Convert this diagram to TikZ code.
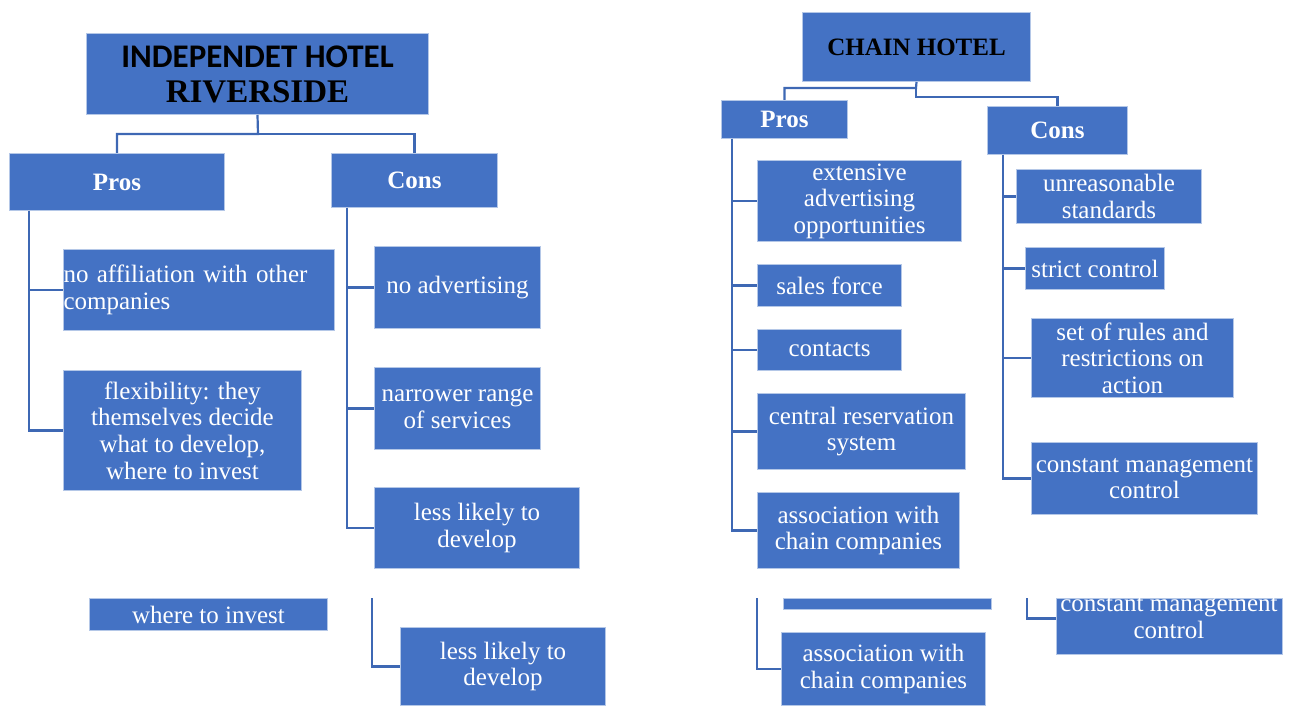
\documentclass[tikz,border=0pt]{standalone}
\usepackage{fontspec}
\setmainfont{Liberation Serif}
\newfontfamily\calibri{Carlito}

\definecolor{boxblue}{HTML}{4472C4}
\definecolor{edgeblue}{HTML}{B4C7E7}
\definecolor{lineblue}{HTML}{3E68B4}

\tikzset{
  item/.style={draw=edgeblue, line width=0.5pt, fill=boxblue, text=white,
    align=center, inner sep=0pt, anchor=north west,
    font=\fontsize{12.5}{13.3}\selectfont},
  side/.style={item, font=\bfseries\fontsize{12.5}{13.3}\selectfont},
  head/.style={item, text=black, font=\bfseries\fontsize{16.5}{17.5}\selectfont},
  link/.style={draw=lineblue, line width=1.1pt},
  boxsize/.style 2 args={minimum width=#1*0.5pt, minimum height=#2*0.5pt},
}

\begin{document}
\begin{tikzpicture}[x=0.5pt, y=-0.5pt]
  \useasboundingbox (0,0) rectangle (1292,706);

  % independent hotel
  \node[head, boxsize={342}{81}] (ititle) at (86,33)
    {{\calibri INDEPENDET HOTEL}\\RIVERSIDE};
  \node[side, boxsize={215}{57}] (ipros) at (9,153) {Pros};
  \node[side, boxsize={166}{54}] (icons) at (331,153) {Cons};
  \coordinate (ijoin) at (258,134);
  \draw[link] (ititle.south) -- (ijoin) -| (ipros.north);
  \draw[link] (ijoin) -| (icons.north);

  \node[item, boxsize={271}{81}, text width=135.5pt, align=left] (iaff) at (63,249)
    {no affiliation with other\\companies};
  \node[item, boxsize={238}{120}] (iflex) at (63,370)
    {flexibility: they\\themselves decide\\what to develop,\\where to invest};
  \coordinate (ipspine) at ([xshift=10pt]ipros.south west);
  \draw[link] (ipspine) |- (iaff.west);
  \draw[link] (ipspine) |- (iflex.west);

  \node[item, boxsize={166}{82}] (iadv) at (374,246) {no advertising};
  \node[item, boxsize={166}{82}] (inarrow) at (374,367) {narrower range\\of services};
  \node[item, boxsize={205}{81}] (iless) at (374,487) {less likely to\\develop};
  \coordinate (icspine) at ([xshift=8pt]icons.south west);
  \draw[link] (icspine) |- (iadv.west);
  \draw[link] (icspine) |- (inarrow.west);
  \draw[link] (icspine) |- (iless.west);

  % leftovers below
  \node[item, boxsize={238}{32}] (iwhere) at (89,598) {where to invest};
  \node[item, boxsize={205}{78}] (iless2) at (400,627) {less likely to\\develop};
  \coordinate (icstub) at (372,598);
  \draw[link] (icstub) |- (iless2.west);

  % chain hotel
  \node[head, boxsize={228}{69}, font=\bfseries\fontsize{12.5}{13.3}\selectfont] (ctitle) at (802,12)
    {CHAIN HOTEL};
  \node[side, boxsize={126}{38}] (cpros) at (721,100) {Pros};
  \node[side, boxsize={140}{48}] (ccons) at (987,106) {Cons};
  \coordinate (cjoin) at (916,88);
  \draw[link] (ctitle.south) -- (cjoin) -| (cpros.north);
  \draw[link] (cjoin) -- ++(0,9) -| (ccons.north);

  \node[item, boxsize={204}{81}] (cadv) at (757,160)
    {extensive\\advertising\\opportunities};
  \node[item, boxsize={144}{42}] (csales) at (757,264) {sales force};
  \node[item, boxsize={144}{41}] (ccontacts) at (757,329) {contacts};
  \node[item, boxsize={208}{76}] (ccrs) at (757,393) {central reservation\\system};
  \node[item, boxsize={202}{76}] (cassoc) at (757,492) {association with\\chain companies};
  \coordinate (cpspine) at ([xshift=5.5pt]cpros.south west);
  \foreach \n in {cadv, csales, ccontacts, ccrs, cassoc}
    \draw[link] (cpspine) |- (\n.west);

  \node[item, boxsize={185}{54}] (cunreas) at (1016,169) {unreasonable\\standards};
  \node[item, boxsize={139}{42}] (cstrict) at (1025,247) {strict control};
  \node[item, boxsize={202}{79}] (crules) at (1031,318)
    {set of rules and\\restrictions on\\action};
  \node[item, boxsize={226}{72}] (cconst) at (1031,442)
    {constant management\\control};
  \coordinate (ccspine) at ([xshift=8pt]ccons.south west);
  \foreach \n in {cunreas, cstrict, crules, cconst}
    \draw[link] (ccspine) |- (\n.west);

  % leftovers below
  \node[item, boxsize={208}{11}] (cblank) at (783,598) {};
  \node[item, boxsize={204}{73}] (cassoc2) at (781,632) {association with\\chain companies};
  \coordinate (cpstub) at (757,598);
  \draw[link] (cpstub) |- (cassoc2.west);

  \node[item, boxsize={226}{56}] (cconst2) at (1056,598) {};
  \begin{scope}
    \clip (1056,598) rectangle (1282,654);
    \node[item, anchor=center, fill=none, draw=none] (cconst2text) at (1169,618)
      {constant management\\control};
  \end{scope}
  \coordinate (ccstub) at (1027,598);
  \draw[link] (ccstub) |- ([yshift=4pt]cconst2.west);
\end{tikzpicture}
\end{document}
